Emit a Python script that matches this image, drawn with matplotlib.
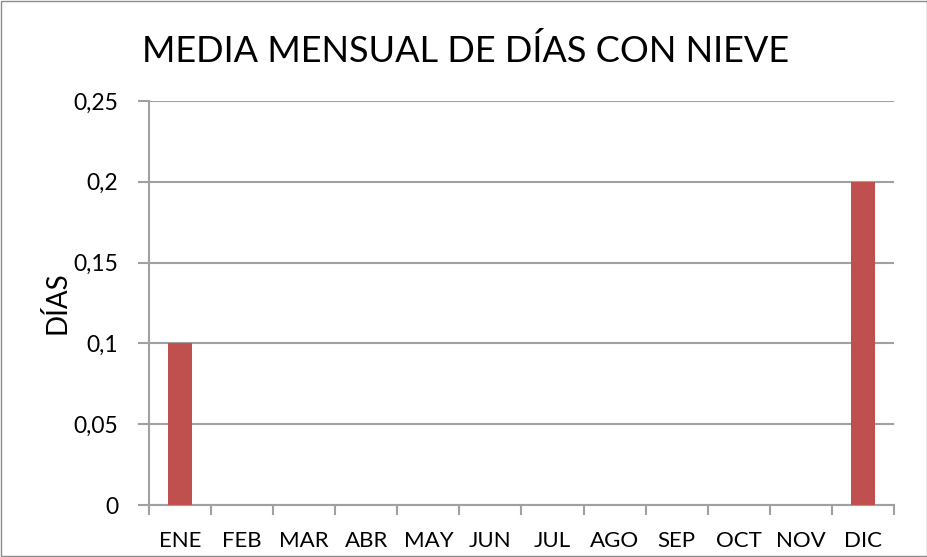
import matplotlib
matplotlib.use("Agg")
import matplotlib.pyplot as plt
import numpy as np

# Monthly average of snow days
months = ["ENE", "FEB", "MAR", "ABR", "MAY", "JUN", "JUL", "AGO", "SEP", "OCT", "NOV", "DIC"]
snow_days = [0.1, 0, 0, 0, 0, 0, 0, 0, 0, 0, 0, 0.2]
y_ticks = [0, 0.05, 0.1, 0.15, 0.2, 0.25]
y_tick_labels = ["0", "0,05", "0,1", "0,15", "0,2", "0,25"]

grid_col = "#A0A0A0"
bar_col = "#C0504D"

fig = plt.figure(figsize=(9.28, 5.57), dpi=100)
ax = fig.add_axes([149 / 928, 52 / 557, 745 / 928, 404 / 557])

x = np.arange(len(months))
ax.bar(x, snow_days, width=0.39, color=bar_col, zorder=3)

ax.set_xlim(-0.5, len(months) - 0.5)
ax.set_ylim(0, 0.25)
ax.set_yticks(y_ticks)
ax.set_yticklabels(y_tick_labels, fontsize=16.5, family="Lato")
ax.set_xticks(x)
ax.set_xticklabels(months, fontsize=16, family="Lato")
ax.tick_params(axis="x", length=0, pad=19)
ax.set_xticks(np.arange(-0.5, len(months)), minor=True)
ax.tick_params(axis="x", which="minor", length=7, color=grid_col, width=1.5)
ax.tick_params(axis="y", length=8, color=grid_col, width=1.5, pad=14)

ax.grid(axis="y", color=grid_col, linewidth=1.5, zorder=0)
for side in ["top", "right"]:
    ax.spines[side].set_visible(False)
for side in ["left", "bottom"]:
    ax.spines[side].set_color(grid_col)
    ax.spines[side].set_linewidth(1.5)

ax.set_ylabel("DÍAS", fontsize=20, family="Lato", labelpad=2)
fig.text(0.502, 0.908, "MEDIA MENSUAL DE DÍAS CON NIEVE", ha="center", va="center",
         fontsize=26, family="Lato")

# thin border around the whole chart
fig.patches.append(plt.Rectangle((0.001, 0.001), 0.998, 0.998, transform=fig.transFigure,
                                 fill=False, edgecolor="#8C8C8C", linewidth=1))

fig.savefig("out.png", dpi=100)
